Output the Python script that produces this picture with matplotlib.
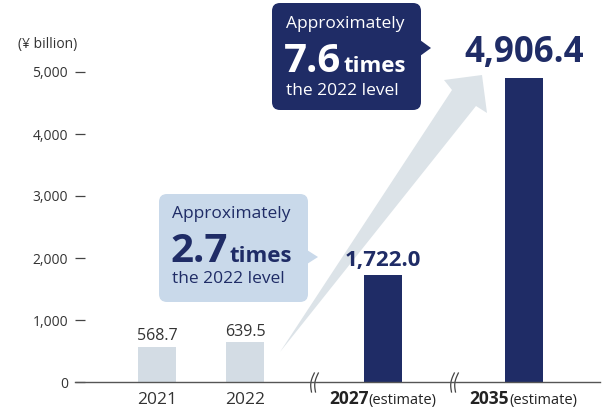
import numpy as np
import matplotlib.pyplot as plt
from matplotlib.patches import FancyBboxPatch, Polygon

plt.rcParams['font.family'] = ['Open Sans', 'DejaVu Sans']

# data
years = ['2021', '2022', '2027', '2035']
values = [568.7, 639.5, 1722.0, 4906.4]
value_labels = ['568.7', '639.5', '1,722.0', '4,906.4']
is_estimate = [False, False, True, True]
positions = [0, 1, 2.57, 4.17]
yticks = [0, 1000, 2000, 3000, 4000, 5000]

NAVY = '#1f2c66'
LIGHT_BAR = '#d3dce4'
LIGHT_BOX = '#c9d9ea'
ARROW = '#dce3e8'
TXT = '#333333'

W, H, DPI = 608, 407, 100
fig = plt.figure(figsize=(W / DPI, H / DPI), dpi=DPI)

# overlay axes in pixel coords for decorations (behind the bars)
ov = fig.add_axes([0, 0, 1, 1])
ov.set_xlim(0, W)
ov.set_ylim(H, 0)
ov.axis('off')
ov.set_zorder(0)

# main axes in pixel layout
ax = fig.add_axes([75 / W, 25 / H, 525 / W, 382 / H])
ax.set_zorder(1)
ax.patch.set_alpha(0)
ax.set_xlim(-0.93, 5.03)
ax.set_ylim(0, 382 / 0.062)

act = [i for i in range(4) if not is_estimate[i]]
est = [i for i in range(4) if is_estimate[i]]
b1 = ax.bar([positions[i] for i in act], [values[i] for i in act], width=0.43,
            color=LIGHT_BAR, zorder=2)
b2 = ax.bar([positions[i] for i in est], [values[i] for i in est], width=0.43,
            color=NAVY, zorder=2)
ax.bar_label(b1, labels=[value_labels[i] for i in act], padding=2,
             fontsize=11.5, color=TXT)
ax.annotate(value_labels[2], xy=(positions[2], values[2]), xytext=(0, 3),
            textcoords='offset points', ha='center', va='bottom',
            fontsize=16, fontweight='bold', color=NAVY)
ax.annotate(value_labels[3], xy=(positions[3], values[3]), xytext=(0, 5),
            textcoords='offset points', ha='center', va='bottom',
            fontsize=25, fontweight='bold', color=NAVY)

for s in ['top', 'right', 'left']:
    ax.spines[s].set_visible(False)
ax.spines['bottom'].set_color('#555555')
ax.spines['bottom'].set_linewidth(1.0)
ax.set_yticks(yticks)
ax.set_yticklabels([f'{v:,}' for v in yticks])
ax.tick_params(axis='y', direction='in', length=7, width=0.9, color='#444444',
               pad=5, labelsize=10, labelcolor=TXT)
ax.set_xticks([])

# x labels
for i in range(4):
    if not is_estimate[i]:
        ax.annotate(years[i], xy=(positions[i], 0), xycoords=('data', 'axes fraction'),
                    xytext=(0, -22), textcoords='offset pixels', ha='center', va='baseline',
                    fontsize=12.5, color=TXT)
    else:
        ax.annotate(years[i], xy=(positions[i], 0), xycoords=('data', 'axes fraction'),
                    xytext=(-15, -22), textcoords='offset pixels', ha='right', va='baseline',
                    fontsize=12.5, fontweight='bold', color='#222222')
        ax.annotate('(estimate)', xy=(positions[i], 0), xycoords=('data', 'axes fraction'),
                    xytext=(-15, -22), textcoords='offset pixels', ha='left', va='baseline',
                    fontsize=10.5, color='#222222')

ov.text(18, 48, '(¥ billion)', fontsize=10, color=TXT, va='baseline')

# axis break marks
yy = np.linspace(373, 392, 30)
for cx in (313, 453):
    for dx in (0, 4):
        xx = cx + dx - 2.0 * np.sin((yy - 373) / 19 * np.pi) + (yy - 382) * -0.15
        ov.plot(xx, yy, color='#444444', lw=0.9, zorder=5)

# big arrow
ov.add_patch(Polygon([(280, 352), (452, 90), (444, 80), (482, 75), (487, 113),
                      (476, 106)], closed=True, fc=ARROW, ec='none', zorder=1))

# light callout
ov.add_patch(FancyBboxPatch((159, 194), 149, 108, boxstyle='round,pad=0,rounding_size=8',
                            fc=LIGHT_BOX, ec='none', zorder=3))
ov.add_patch(Polygon([(307, 250), (318, 257), (307, 264)], fc=LIGHT_BOX, ec='none', zorder=3))
ov.text(172, 218, 'Approximately', fontsize=12.5, color=NAVY, va='baseline', zorder=4)
ov.text(170, 262, '2.7', fontsize=29, fontweight='bold', color=NAVY, va='baseline', zorder=4)
ov.text(230, 262, 'times', fontsize=16, fontweight='bold', color=NAVY, va='baseline', zorder=4)
ov.text(172, 283, 'the 2022 level', fontsize=12.5, color=NAVY, va='baseline', zorder=4)

# dark callout
ov.add_patch(FancyBboxPatch((272, 3), 149, 107, boxstyle='round,pad=0,rounding_size=8',
                            fc=NAVY, ec='none', zorder=3))
ov.add_patch(Polygon([(420, 40), (431, 48), (420, 56)], fc=NAVY, ec='none', zorder=3))
ov.text(286, 28, 'Approximately', fontsize=12.5, color='white', va='baseline', zorder=4)
ov.text(284, 72, '7.6', fontsize=29, fontweight='bold', color='white', va='baseline', zorder=4)
ov.text(344, 72, 'times', fontsize=16, fontweight='bold', color='white', va='baseline', zorder=4)
ov.text(286, 95, 'the 2022 level', fontsize=12.5, color='white', va='baseline', zorder=4)

fig.savefig('out.png', dpi=DPI)
